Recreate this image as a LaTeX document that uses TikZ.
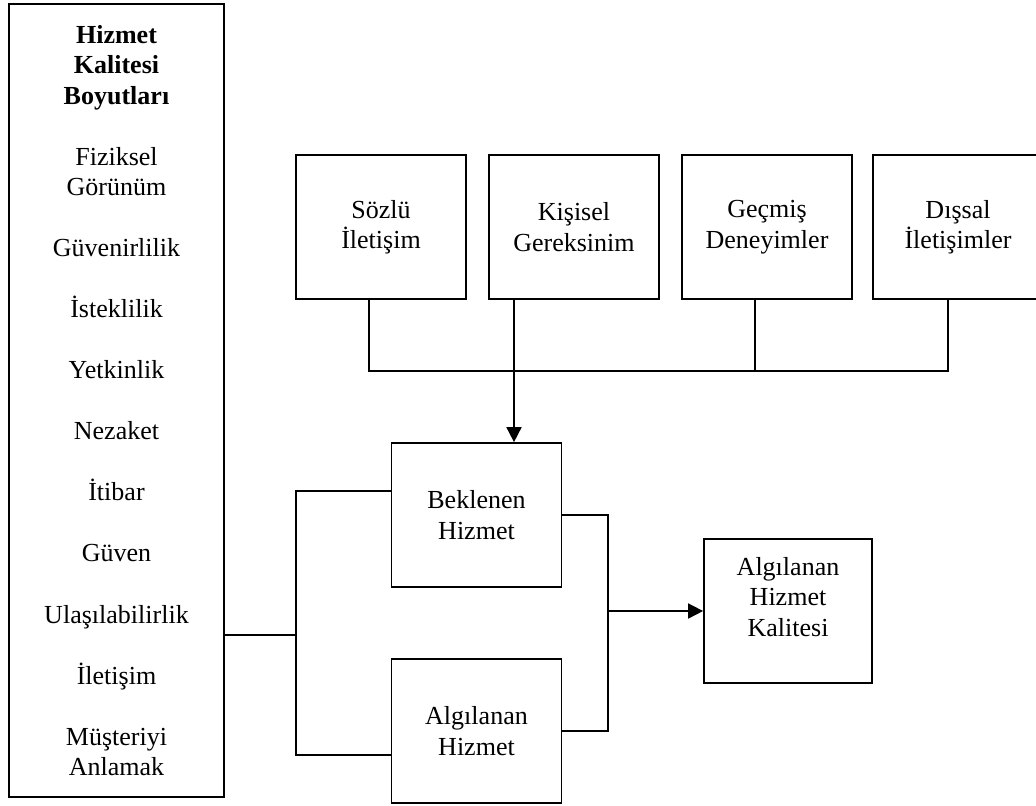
\documentclass[tikz,border=0pt]{standalone}
\usepackage{fontspec}
\setmainfont{Liberation Serif}
\usetikzlibrary{arrows.meta}
\tikzset{
    txt/.style={font=\fontsize{18.5}{21.7}\selectfont, align=center, inner sep=0pt},
    box/.style={txt, draw, line width=1.2pt, minimum width=\boxw, minimum height=\boxh},
    link/.style={line width=1.2pt},
    arrowlink/.style={link, -{Triangle[length=0.375cm, width=0.375cm]}}
}
\begin{document}
\begin{tikzpicture}[x=0.025cm, y=-0.025cm]
    \def\boxw{4.25cm}
    \def\boxh{3.6cm}
    \def\gap{21.7pt}
    \useasboundingbox (0,0) rectangle (1036,805);
    \clip (0,0) rectangle (1036,805);

    % Dimensions box
    \node[box, minimum width=5.375cm, minimum height=19.825cm] (dims) at (116.5,400.5)
        {\textbf{Hizmet}\\\textbf{Kalitesi}\\\textbf{Boyutları}\\[\gap]
         Fiziksel\\Görünüm\\[\gap] Güvenirlilik\\[\gap] İsteklilik\\[\gap]
         Yetkinlik\\[\gap] Nezaket\\[\gap] İtibar\\[\gap] Güven\\[\gap]
         Ulaşılabilirlik\\[\gap] İletişim\\[\gap] Müşteriyi\\Anlamak};

    % Top boxes
    \node[box] (soz) at (381,227) {Sözlü\\İletişim};
    \node[box] (kis) at (574,227) {Kişisel\\Gereksinim};
    \node[box] (gec) at (767,227) {Geçmiş\\Deneyimler};
    \node[box] (dis) at (958,227) {Dışsal\\İletişimler};

    % Service boxes
    \node[box] (bek) at (476.5,515) {Beklenen\\Hizmet};
    \node[box] (alg) at (476.5,731) {Algılanan\\Hizmet};
    \node[box, minimum width=4.2cm] (res) at (788,611) {};
    \node[txt] (restxt) at ([yshift=0.35cm]res.center) {Algılanan\\Hizmet\\Kalitesi};

    % Collecting line
    \coordinate (busl) at (369,371);
    \coordinate (busr) at (948,371);
    \draw[link] (soz.south -| busl) -- (busl) -- (busr) -- (dis.south -| busr);
    \draw[link] (gec.south -| 755,0) -- (755,371);
    \draw[arrowlink] (kis.south -| 514,0) -- (bek.north -| 514,0);

    % Junctions
    \coordinate (jl) at (296,635);
    \coordinate (jr) at (608,611);
    \draw[link] (dims.east |- jl) -- (jl);
    \draw[link] ([yshift=0.6cm]bek.west) -| (jl) |- ([yshift=-0.6cm]alg.west);
    \draw[link] (bek.east) -| (jr) |- (alg.east);
    \draw[arrowlink] (jr) -- (res.west);
\end{tikzpicture}
\end{document}
